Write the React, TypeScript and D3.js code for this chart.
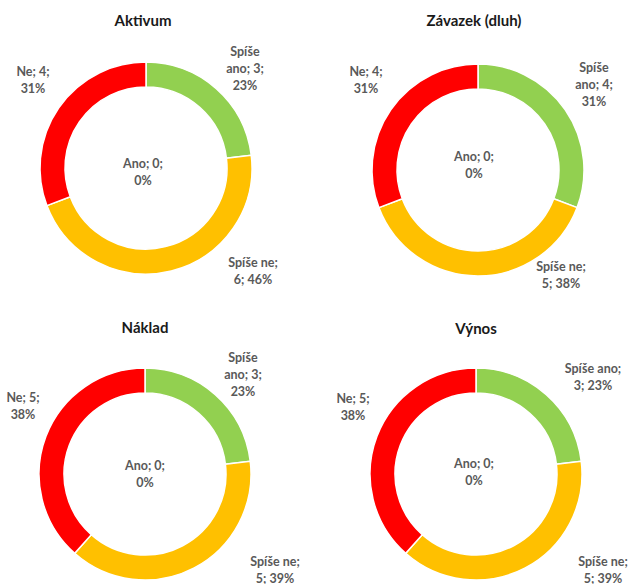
import React from "react";
import * as d3 from "d3";

// kategorie odpovedi (poradi jako v grafu, od 12 hodin po smeru hodin)
const categories = ["Ano", "Spíše ano", "Spíše ne", "Ne"];
const colors = ["#4472C4", "#92D050", "#FFC000", "#FF0000"];

const titles = ["Aktivum", "Závazek (dluh)", "Náklad", "Výnos"];

const aktivum = [0, 3, 6, 4];
const zavazek = [0, 4, 5, 4];
const naklad = [0, 3, 5, 5];
const vynos = [0, 3, 5, 5];

const aktivumPct = ["0%", "23%", "46%", "31%"];
const zavazekPct = ["0%", "31%", "38%", "31%"];
const nakladPct = ["0%", "23%", "39%", "38%"];
const vynosPct = ["0%", "23%", "39%", "38%"];

const W = 633;
const H = 584;
const R = 106;
const R0 = 81;
const LINE = 17;

// rozlozeni: stred kruhu, titulek, popisky (posun od stredu + zalomeni slov)
const layout = [
  {
    cx: 146, cy: 168, tx: 143, ty: 20,
    labels: [
      { dx: -3, dy: 3, words: [2, 1] },
      { dx: 99, dy: -100, words: [1, 2, 1] },
      { dx: 107, dy: 102, words: [2, 2] },
      { dx: -113, dy: -89, words: [2, 1] },
    ],
  },
  {
    cx: 478, cy: 170, tx: 474, ty: 20,
    labels: [
      { dx: -4, dy: -6, words: [2, 1] },
      { dx: 116, dy: -86, words: [1, 2, 1] },
      { dx: 83, dy: 104, words: [2, 2] },
      { dx: -112, dy: -91, words: [2, 1] },
    ],
  },
  {
    cx: 145, cy: 474, tx: 145, ty: 327,
    labels: [
      { dx: 0, dy: -1, words: [2, 1] },
      { dx: 98, dy: -100, words: [1, 2, 1] },
      { dx: 130, dy: 95, words: [2, 2] },
      { dx: -122, dy: -69, words: [2, 1] },
    ],
  },
  {
    cx: 476, cy: 474, tx: 476, ty: 328,
    labels: [
      { dx: -2, dy: -3, words: [2, 1] },
      { dx: 117, dy: -98, words: [2, 2] },
      { dx: 127, dy: 95, words: [2, 2] },
      { dx: -123, dy: -68, words: [2, 1] },
    ],
  },
];

const series = [aktivum, zavazek, naklad, vynos];
const percents = [aktivumPct, zavazekPct, nakladPct, vynosPct];

function splitLines(text: string, words: number[]) {
  const tokens = text.split(" ");
  const out: string[] = [];
  let i = 0;
  words.forEach((n) => {
    out.push(tokens.slice(i, i + n).join(" "));
    i += n;
  });
  return out;
}

function Donut({ idx }: { idx: number }) {
  const values = series[idx];
  const pct = percents[idx];
  const lay = layout[idx];

  const pie = d3
    .pie<number>()
    .sort(null)
    .value((d) => d)
    .startAngle(0)
    .endAngle(2 * Math.PI);
  const arc = d3.arc<d3.PieArcDatum<number>>().innerRadius(R0).outerRadius(R);
  const arcs = pie(values);

  return (
    <g>
      <text
        x={lay.tx}
        y={lay.ty}
        textAnchor="middle"
        dominantBaseline="central"
        fontSize={15}
        fontWeight="bold"
        fill="#1a1a1a"
      >
        {titles[idx]}
      </text>
      <g transform={`translate(${lay.cx},${lay.cy})`}>
        {arcs.map((a, i) => (
          <path
            key={i}
            d={arc(a) || ""}
            fill={colors[i]}
            stroke="#fff"
            strokeWidth={1.5}
          />
        ))}
        {arcs.map((a, i) => {
          const lab = lay.labels[i];
          const full = `${categories[i]}; ${values[i]}; ${pct[i]}`;
          const lines = splitLines(full, lab.words);
          const y0 = lab.dy - ((lines.length - 1) * LINE) / 2;
          return (
            <text
              key={"l" + i}
              textAnchor="middle"
              dominantBaseline="central"
              fontSize={12.5}
              fontWeight="bold"
              fill="#595959"
            >
              {lines.map((ln, j) => (
                <tspan key={j} x={lab.dx} y={y0 + j * LINE}>
                  {ln}
                </tspan>
              ))}
            </text>
          );
        })}
      </g>
    </g>
  );
}

export default function App() {
  return (
    <div style={{ position: "absolute", left: 0, top: 0 }}>
      <svg
        width={W}
        height={H}
        style={{ display: "block", background: "#fff", fontFamily: "Lato, 'Noto Sans', sans-serif" }}
      >
        {titles.map((t, i) => (
          <Donut key={t} idx={i} />
        ))}
      </svg>
    </div>
  );
}
